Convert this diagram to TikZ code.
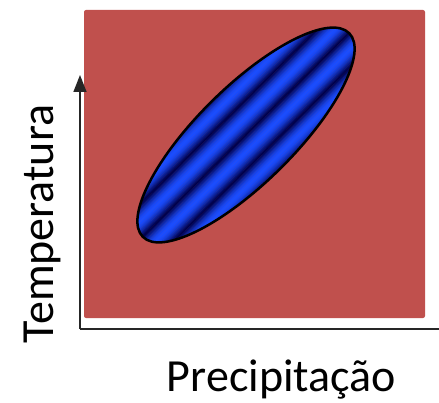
\documentclass[tikz,border=0pt]{standalone}
\usepackage{fontspec}
\setmainfont{Carlito}
\usetikzlibrary{arrows.meta}
\definecolor{bgred}{HTML}{C0504D}
\definecolor{stripebright}{HTML}{1A4DFF}
\definecolor{stripedark}{HTML}{00004A}
\definecolor{axisgray}{HTML}{262626}
\tikzset{
  axisline/.style={draw=axisgray, line width=1.5pt},
  axislabel/.style={font=\fontsize{46}{50}\selectfont, text=black, inner sep=0pt},
}
\begin{document}
\begin{tikzpicture}[x=1pt,y=-1pt]
\useasboundingbox (0,0) rectangle (439,403);
% red panel
\fill[bgred, rounded corners=2pt] (84,10) rectangle (425,318);
% axes
\coordinate (origin) at (80,329);
\coordinate (ytip) at (80,75);
\coordinate (xend) at (439,329);
\draw[axisline, -{Triangle[width=13pt,length=17pt]}] (origin) -- (ytip);
\draw[axisline] (origin) -- (xend);
% striped ellipse
\begin{scope}[shift={(246,135)}, rotate=44.6]
  \begin{scope}
    \clip (0,0) ellipse [x radius=145pt, y radius=48pt];
    \foreach \i in {-50,...,50} {
      \pgfmathsetmacro\p{100*(0.5*(1-cos(14.4*(\i+50))))^0.6}
      \colorlet{stc}{stripebright!\p!stripedark}
      \draw[stc, line width=1.3pt] (-150,\i) -- (150,\i);
    }
  \end{scope}
  \draw[black, line width=2.5pt] (0,0) ellipse [x radius=145pt, y radius=48pt];
\end{scope}
% labels
\node[axislabel, rotate=90, anchor=base] (ylab) at (53,224) {Temperatura};
\node[axislabel, anchor=base] (xlab) at (281.5,391.7) {Precipitação};
\end{tikzpicture}
\end{document}
